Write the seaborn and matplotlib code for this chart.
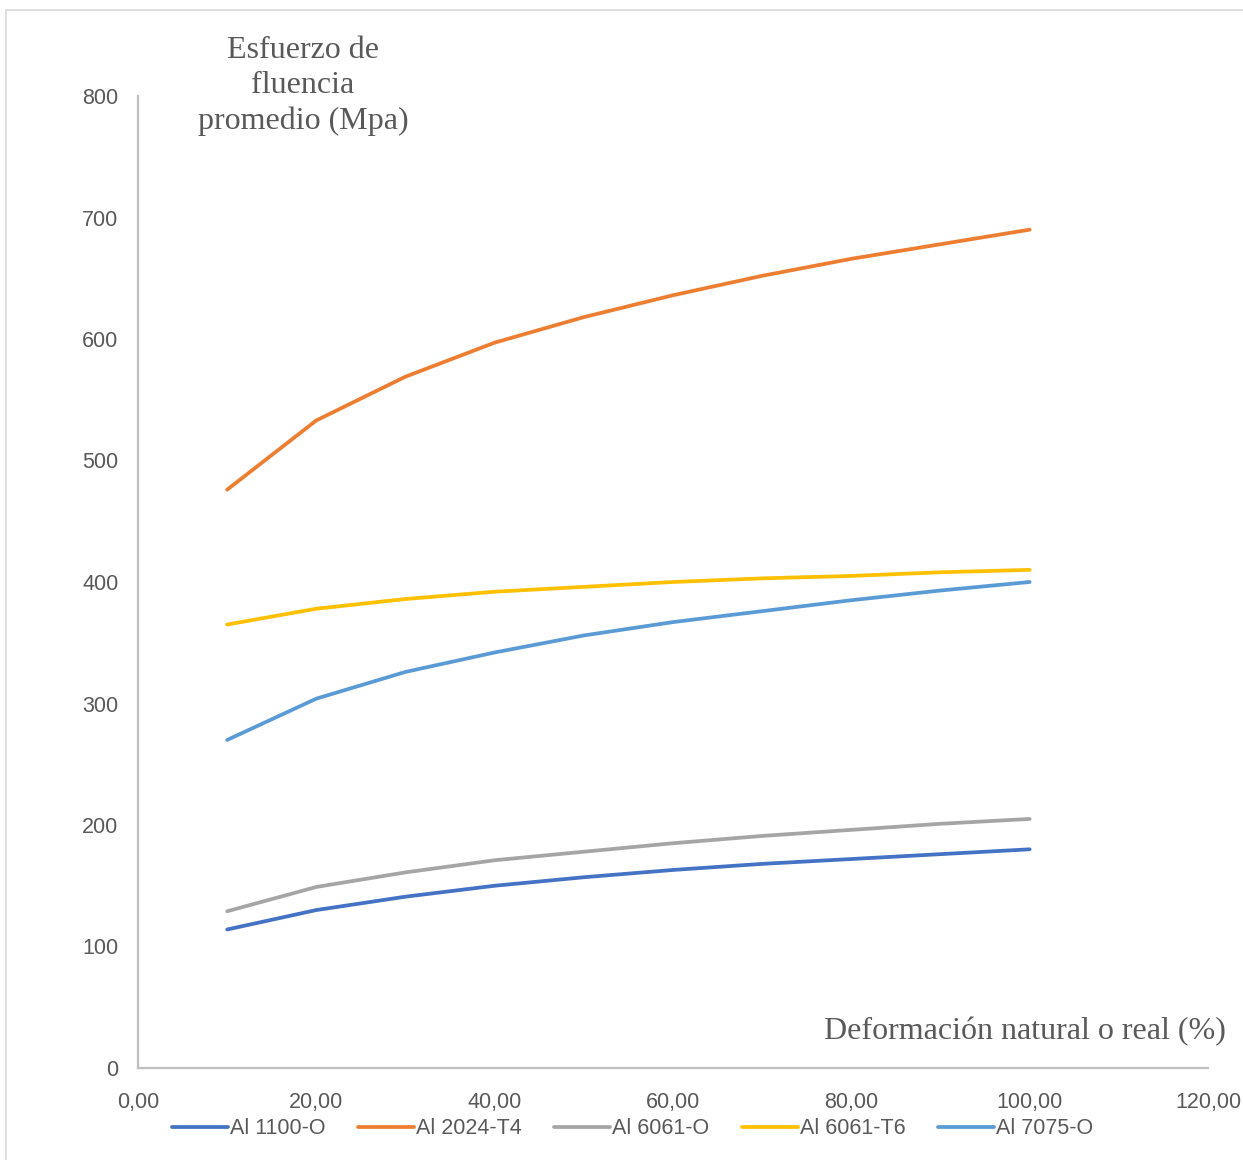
import numpy as np
import pandas as pd
import matplotlib
matplotlib.use("Agg")
import matplotlib.pyplot as plt
from matplotlib.lines import Line2D
from matplotlib.ticker import FuncFormatter
import seaborn as sns

# True strain (%) and mean flow stress (MPa) for each aluminium alloy
strain = [10, 20, 30, 40, 50, 60, 70, 80, 90, 100]
al_1100_o = [114, 130, 141, 150, 157, 163, 168, 172, 176, 180]
al_2024_t4 = [476, 533, 569, 597, 618, 636, 652, 666, 678, 690]
al_6061_o = [129, 149, 161, 171, 178, 185, 191, 196, 201, 205]
al_6061_t6 = [365, 378, 386, 392, 396, 400, 403, 405, 408, 410]
al_7075_o = [270, 304, 326, 342, 356, 367, 376, 385, 393, 400]

series_names = ["Al 1100-O", "Al 2024-T4", "Al 6061-O", "Al 6061-T6", "Al 7075-O"]
series_values = [al_1100_o, al_2024_t4, al_6061_o, al_6061_t6, al_7075_o]
colors = ["#4472C4", "#ED7D31", "#A5A5A5", "#FFC000", "#5B9BD5"]

x_ticks = [0, 20, 40, 60, 80, 100, 120]
y_ticks = [0, 100, 200, 300, 400, 500, 600, 700, 800]

df = pd.concat(
    [pd.DataFrame({"strain": strain, "stress": vals, "alloy": name})
     for name, vals in zip(series_names, series_values)],
    ignore_index=True,
)

sns.set_theme(style="white")
plt.rcParams["font.family"] = ["Liberation Sans", "DejaVu Sans"]

W, H = 1243, 1160
fig = plt.figure(figsize=(W / 100, H / 100), dpi=100)
ax = fig.add_axes([138 / W, 1 - 1068 / H, (1208 - 138) / W, (1068 - 96) / H])

sns.lineplot(data=df, x="strain", y="stress", hue="alloy", hue_order=series_names,
             palette=colors, linewidth=2.7, sort=False, ax=ax, legend=True)
for ln in ax.lines:
    ln.set_solid_joinstyle("round")
    ln.set_solid_capstyle("round")

ax.set_xlim(x_ticks[0], x_ticks[-1])
ax.set_ylim(y_ticks[0], y_ticks[-1])
ax.set_xticks(x_ticks)
ax.set_yticks(y_ticks)
ax.xaxis.set_major_formatter(FuncFormatter(lambda v, p: f"{v:.2f}".replace(".", ",")))
ax.yaxis.set_major_formatter(FuncFormatter(lambda v, p: f"{v:.0f}"))
ax.set_xlabel("")
ax.set_ylabel("")
ax.grid(False)

axis_grey = "#BFBFBF"
text_grey = "#595959"
for side in ["top", "right"]:
    ax.spines[side].set_visible(False)
for side in ["left", "bottom"]:
    ax.spines[side].set_color(axis_grey)
    ax.spines[side].set_linewidth(1.6)
ax.tick_params(axis="both", length=0, labelsize=15.5, labelcolor=text_grey)
ax.tick_params(axis="y", pad=14)
ax.tick_params(axis="x", pad=17)

handles, labels = ax.get_legend_handles_labels()
ax.get_legend().remove()
fig.legend(handles, labels, loc="center", bbox_to_anchor=(0.509, 1 - 1129 / H),
           ncol=5, frameon=False, fontsize=15.5, handlelength=2.6,
           handletextpad=0.1, columnspacing=1.5, labelcolor=text_grey)

serif = ["Liberation Serif", "DejaVu Serif"]
fig.text(303 / W, 1 - 86 / H, "Esfuerzo de\nfluencia\npromedio (Mpa)", ha="center", va="center",
         fontsize=23, color=text_grey, family=serif, linespacing=1.27)
fig.text(1226 / W, 1 - 1032 / H, "Deformación natural o real (%)", ha="right", va="center",
         fontsize=23, color=text_grey, family=serif)

# Chart-area frame
frame = "#D9D9D9"
fig.add_artist(Line2D([6 / W, 1.0], [1 - 10 / H, 1 - 10 / H], transform=fig.transFigure,
                      color=frame, linewidth=1.2))
fig.add_artist(Line2D([6 / W, 6 / W], [0.0, 1 - 10 / H], transform=fig.transFigure,
                      color=frame, linewidth=1.2))

fig.savefig("out.png", dpi=100, facecolor="white")
